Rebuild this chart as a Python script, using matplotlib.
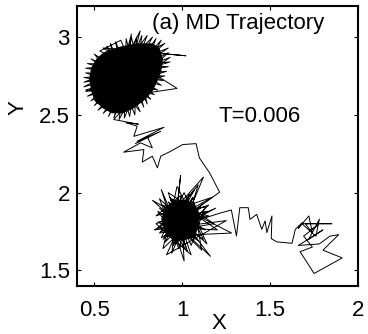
import matplotlib
matplotlib.use("Agg")
import matplotlib.pyplot as plt

plt.rcParams['font.family'] = ['Liberation Sans', 'DejaVu Sans']

# trajectory: first basin (upper left)
basin_a_x = [0.66, 0.62, 0.78, 0.68, 0.67, 0.85, 0.55, 0.92, 0.46, 0.91, 0.44, 0.86,
             0.48, 0.82, 0.57, 0.73, 0.74, 0.61, 0.80, 0.50, 0.90, 0.44, 0.93, 0.45,
             0.89, 0.53,
             0.65, 0.80, 0.71, 0.64, 0.88, 0.52, 0.93, 0.45, 0.90, 0.45, 0.84, 0.50,
             0.76, 0.59, 0.70, 0.77, 0.58, 0.83, 0.48, 0.92, 0.44, 0.92, 0.46, 0.88,
             0.55,
             1.02, 0.62, 0.97, 0.56, 0.76, 0.66, 0.71, 0.62, 0.45, 0.87, 0.61, 0.75, 0.68]
basin_a_y = [2.74, 2.97, 2.55, 2.99, 2.48, 2.99, 2.51, 2.90, 2.62, 2.78, 2.74, 2.66,
             2.86, 2.60, 2.94, 2.50, 3.00, 2.48, 3.01, 2.56, 2.96, 2.68, 2.84, 2.80,
             2.72, 2.91,
             2.98, 2.57, 3.00, 2.47, 2.98, 2.53, 2.87, 2.65, 2.75, 2.77, 2.63, 2.89,
             2.52, 2.96, 2.49, 3.01, 2.49, 3.00, 2.59, 2.93, 2.71, 2.81, 2.83, 2.69,
             2.93,
             2.88, 2.92, 2.67, 2.60, 3.04, 2.60, 3.02, 2.62, 2.66, 2.80, 2.47, 2.44, 2.45]

# path from first to second basin
hop1_x = [0.685, 0.743, 0.724, 0.896, 0.743, 0.877, 0.733, 0.80, 0.829, 0.762, 0.666,
          0.781, 0.772, 0.829, 0.858, 0.877, 0.934, 1.002, 1.078, 1.097, 1.155, 1.212, 1.155]
hop1_y = [2.448, 2.427, 2.362, 2.42, 2.33, 2.394, 2.315, 2.362, 2.288, 2.32, 2.26,
          2.277, 2.196, 2.234, 2.159, 2.234, 2.266, 2.309, 2.315, 2.223, 2.127, 2.003, 1.956]

# second basin
basin_b_x = [0.96, 1.12, 0.89, 1.06, 0.95, 0.99, 0.94, 1.12, 0.86, 1.15, 0.88, 1.13,
             0.83, 1.09, 0.93, 1.02, 0.88, 1.01, 0.99, 0.85, 1.17, 0.84, 1.25, 0.91,
             1.06, 1.11, 0.87, 1.16, 0.92, 1.08, 0.86, 1.14, 0.96, 1.04, 0.90, 1.28,
             0.95, 1.05, 1.13,
             1.10, 0.90, 1.07, 0.87, 1.18, 0.92, 1.03, 0.86, 1.12, 0.97, 0.89, 1.15,
             0.85, 1.05, 0.94, 1.20, 0.90, 1.09, 0.98, 0.87, 1.14, 1.01, 0.88, 1.19,
             0.88, 1.22]
basin_b_y = [1.80, 1.93, 1.70, 1.97, 1.66, 2.11, 1.61, 2.10, 1.77, 1.85, 1.92, 1.76,
             1.95, 1.69, 1.97, 1.65, 2.02, 1.56, 1.98, 1.85, 1.97, 1.76, 1.82, 1.60,
             1.97, 1.63, 1.90, 1.59, 1.94, 1.70, 1.81, 1.88, 1.67, 1.99, 1.72, 1.74,
             1.93, 1.66, 1.91,
             1.90, 1.68, 2.02, 1.74, 1.80, 2.00, 1.62, 1.88, 1.70, 2.04, 1.64, 1.92,
             1.80, 1.60, 1.96, 1.76, 1.78, 2.05, 1.64, 1.96, 1.67, 2.00, 1.71, 1.90,
             1.75, 1.87]

# path to third region
hop2_x = [1.279, 1.308, 1.327, 1.375, 1.385, 1.423, 1.452, 1.471, 1.481, 1.51, 1.506,
          1.538, 1.624, 1.643, 1.682]
hop2_y = [1.888, 1.721, 1.903, 1.903, 1.828, 1.86, 1.764, 1.818, 1.743, 1.85, 1.704,
          1.683, 1.674, 1.764, 1.807]

# third region (lower right)
basin_c_x = [1.66, 1.72, 1.74, 1.70, 1.85, 1.68, 1.76, 1.78, 1.72, 1.80, 1.66, 1.78,
             1.84, 1.89, 1.80, 1.91, 1.75, 1.67, 1.74, 1.69, 1.77, 1.73]
basin_c_y = [1.77, 1.85, 1.74, 1.80, 1.80, 1.80, 1.72, 1.83, 1.70, 1.76, 1.66, 1.67,
             1.72, 1.73, 1.63, 1.58, 1.48, 1.62, 1.65, 1.72, 1.79, 1.76]

# dense cores where the trajectory fills the area solid
core_a_x = [0.59, 0.65, 0.74, 0.83, 0.87, 0.89, 0.88, 0.86, 0.83, 0.78, 0.72, 0.66,
            0.60, 0.55, 0.50, 0.48, 0.47, 0.48, 0.51, 0.55]
core_a_y = [2.92, 2.94, 2.96, 2.96, 2.93, 2.86, 2.78, 2.72, 2.65, 2.59, 2.54, 2.51,
            2.51, 2.54, 2.59, 2.66, 2.73, 2.80, 2.86, 2.90]
core_b_x = [0.88, 0.90, 0.95, 1.01, 1.07, 1.10, 1.095, 1.06, 1.00, 0.94, 0.90]
core_b_y = [1.83, 1.90, 1.95, 1.955, 1.93, 1.86, 1.78, 1.71, 1.69, 1.70, 1.75]

xticks = [0.5, 1, 1.5, 2]
yticks = [1.5, 2, 2.5, 3]

traj_x = basin_a_x + hop1_x + basin_b_x + hop2_x + basin_c_x
traj_y = basin_a_y + hop1_y + basin_b_y + hop2_y + basin_c_y

fig = plt.figure(figsize=(3.68, 3.34), dpi=100)
ax = fig.add_axes([0.209, 0.144, 0.764, 0.838])

ax.fill(core_a_x, core_a_y, color='black', lw=0)
ax.fill(core_b_x, core_b_y, color='black', lw=0)
ax.plot(traj_x, traj_y, color='black', lw=0.7)

ax.set_xlim(0.4, 2.0)
ax.set_ylim(1.4, 3.2)
ax.set_xticks(xticks)
ax.set_xticklabels(['0.5', '1', '1.5', '2'])
ax.set_yticks(yticks)
ax.set_yticklabels(['1.5', '2', '2.5', '3'])
ax.tick_params(direction='in', length=3, width=0.8, top=True, right=True, labelsize=16)
ax.tick_params(axis='x', pad=10)
ax.tick_params(axis='y', pad=5)
for s in ax.spines.values():
    s.set_linewidth(1.5)

ax.set_xlabel('X', fontsize=16, va='center')
ax.xaxis.set_label_coords(0.504, -0.135)
ax.set_ylabel('Y', fontsize=16, va='center')
ax.yaxis.set_label_coords(-0.21, 0.636)

ax.text(1.317, 3.09, '(a) MD Trajectory', fontsize=16, ha='center', va='center')
ax.text(1.44, 2.49, 'T=0.006', fontsize=16, ha='center', va='center')

fig.savefig('out.png', dpi=100)
